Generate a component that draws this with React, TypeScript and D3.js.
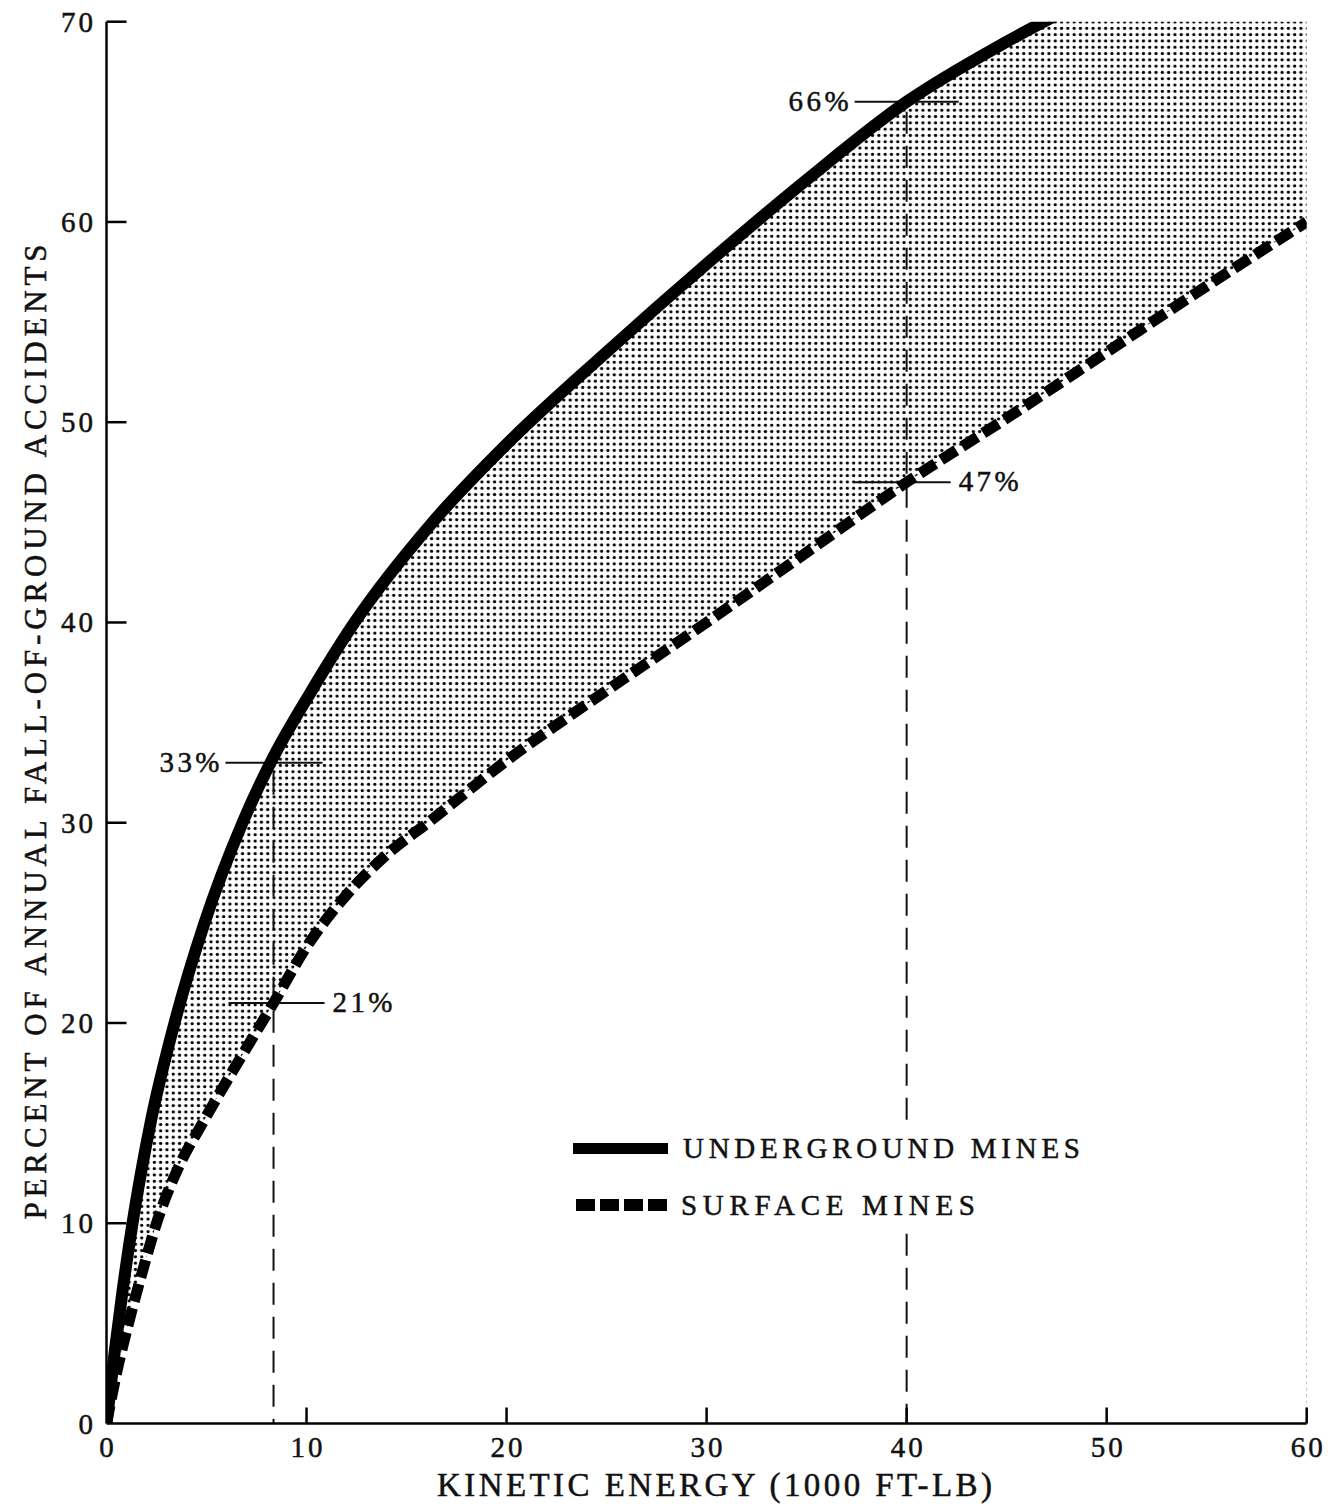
import React from "react";
import * as d3 from "d3";

// Cumulative share of fall-of-ground accidents vs. kinetic energy of the falling rock
const undergroundMines: [number, number][] = [
  [0, 0], [0.4, 3.5], [0.8, 6.6], [1.3, 10], [2.2, 15], [3.4, 20], [4.9, 25],
  [6.8, 30], [8.2, 33], [10.2, 36.5], [12.4, 40], [16.3, 45], [20, 48.9],
  [25, 53.5], [30, 57.9], [35, 62.1], [40, 66], [45, 69], [50, 71.6],
];
const surfaceMines: [number, number][] = [
  [0, 0], [0.5, 2.5], [1.1, 5], [1.8, 7.6], [2.5, 10], [3.6, 12.8], [4.8, 15],
  [7.75, 20], [8.35, 21], [10, 23.8], [12, 26.4], [14, 28.4], [16.2, 30.1],
  [20, 33.1], [25, 36.6], [30, 40], [35, 43.5], [40, 47], [45, 50.2],
  [50, 53.5], [55, 56.8], [60, 60],
];

// Marked readings: energy, percentage, label side and leader extent (in data units)
const readings = [
  { x: 8.35, y: 33, label: "33%", side: "left", from: 5.95, to: 10.8 },
  { x: 8.35, y: 21, label: "21%", side: "right", from: 6.1, to: 10.9 },
  { x: 40, y: 66, label: "66%", side: "left", from: 37.4, to: 42.6 },
  { x: 40, y: 47, label: "47%", side: "right", from: 37.4, to: 42.2 },
];
// Vertical guide lines: energy and the height they start from
const guides = [
  { x: 8.35, top: 33 },
  { x: 40, top: 66 },
];

const xTicks = [0, 10, 20, 30, 40, 50, 60];
const yTicks = [0, 10, 20, 30, 40, 50, 60, 70];

const legendItems = [
  { label: "UNDERGROUND MINES", dashed: false, textLength: 397 },
  { label: "SURFACE MINES", dashed: true, textLength: 294 },
];

const xTitle = "KINETIC ENERGY (1000 FT-LB)";
const yTitle = "PERCENT OF ANNUAL FALL-OF-GROUND ACCIDENTS";

const W = 1339;
const H = 1504;
const FONT = "'Liberation Serif', 'DejaVu Serif', serif";
const INK = "#111";

export default function App() {
  const x = d3.scaleLinear().domain([0, 60]).range([106.5, 1306.7]);
  const y = d3.scaleLinear().domain([0, 70]).range([1423.5, 21.7]);

  const line = d3
    .line<[number, number]>()
    .x((d) => x(d[0]))
    .y((d) => y(d[1]))
    .curve(d3.curveMonotoneX);

  const upperPath = line(undergroundMines) || "";
  const lowerPath = line(surfaceMines) || "";

  // region under the upper curve (stippled) and under the lower curve (blanked)
  const underUpper =
    upperPath + `L${x(60)},${y(72)}L${x(60)},${y(0)}L${x(0)},${y(0)}Z`;
  const underLower = lowerPath + `L${x(60)},${y(0)}L${x(0)},${y(0)}Z`;

  const plotTop = y(70);
  const plotBottom = y(0);
  const plotLeft = x(0);
  const plotRight = x(60);

  const textStyle = { fill: INK, stroke: INK, strokeWidth: 0.5 };

  return (
    <svg
      width={W}
      height={H}
      viewBox={`0 0 ${W} ${H}`}
      style={{ position: "absolute", left: 0, top: 0, background: "#fff" }}
      fontFamily={FONT}
    >
      <defs>
        <pattern id="stipple" width={6.3} height={6.3} patternUnits="userSpaceOnUse">
          <circle cx={3.15} cy={3.15} r={1.65} fill="#000" />
        </pattern>
        <clipPath id="plot">
          <rect x={plotLeft} y={plotTop} width={plotRight - plotLeft} height={plotBottom - plotTop} />
        </clipPath>
      </defs>

      {/* stippled band between the two curves */}
      <g clipPath="url(#plot)">
        <path d={underUpper} fill="url(#stipple)" />
        <path d={underLower} fill="#fff" />
      </g>

      {/* vertical guide lines */}
      {guides.map((g, i) => (
        <line
          key={`g${i}`}
          x1={x(g.x)}
          x2={x(g.x)}
          y1={y(g.top) + 10}
          y2={y(0)}
          stroke={INK}
          strokeWidth={2}
          strokeDasharray="22 12"
        />
      ))}

      {/* reading leaders and labels */}
      {readings.map((r, i) => (
        <g key={`r${i}`}>
          <line x1={x(r.from)} x2={x(r.to)} y1={y(r.y)} y2={y(r.y)} stroke={INK} strokeWidth={2} />
          <text
            x={r.side === "left" ? x(r.from) - 6 : x(r.to) + 8}
            y={y(r.y) + 9}
            textAnchor={r.side === "left" ? "end" : "start"}
            fontSize={29}
            {...textStyle}
            textLength={60}
            lengthAdjust="spacing"
          >
            {r.label}
          </text>
        </g>
      ))}

      {/* curves */}
      <g clipPath="url(#plot)">
        <path d={upperPath} fill="none" stroke="#000" strokeWidth={12} />
        <path d={lowerPath} fill="none" stroke="#000" strokeWidth={11} strokeDasharray="18 7" />
      </g>

      {/* axes */}
      <line x1={plotLeft} x2={plotLeft} y1={plotTop} y2={plotBottom} stroke="#000" strokeWidth={2.5} />
      <line x1={plotLeft} x2={plotRight} y1={plotBottom} y2={plotBottom} stroke="#000" strokeWidth={2.5} />
      {yTicks.map((t) => (
        <g key={`yt${t}`}>
          {t > 0 && (
            <line x1={plotLeft} x2={plotLeft + 20} y1={y(t)} y2={y(t)} stroke="#000" strokeWidth={2.5} />
          )}
          <text x={96} y={y(t) + 10} textAnchor="end" fontSize={29} {...textStyle} letterSpacing={3}>
            {t}
          </text>
        </g>
      ))}
      {xTicks.map((t) => (
        <g key={`xt${t}`}>
          {t > 0 && (
            <line x1={x(t)} x2={x(t)} y1={plotBottom} y2={plotBottom - 16} stroke="#000" strokeWidth={2.5} />
          )}
          <text x={x(t) + 1.5} y={1457} textAnchor="middle" fontSize={29} {...textStyle} letterSpacing={3}>
            {t}
          </text>
        </g>
      ))}

      {/* axis titles */}
      <text
        x={714.5}
        y={1496}
        textAnchor="middle"
        fontSize={33}
        {...textStyle}
        textLength={555}
        lengthAdjust="spacing"
      >
        {xTitle}
      </text>
      <text
        transform={`translate(46, 732) rotate(-90)`}
        textAnchor="middle"
        fontSize={31}
        {...textStyle}
        textLength={975}
        lengthAdjust="spacing"
      >
        {yTitle}
      </text>

      {/* legend, on a blank panel that interrupts the guide line */}
      <rect x={676} y={1124} width={412} height={104} fill="#fff" />
      {legendItems.map((item, i) => {
        const cy = i === 0 ? 1148.5 : 1205;
        const ty = i === 0 ? 1158 : 1215;
        return (
          <g key={`lg${i}`}>
            <line
              x1={item.dashed ? 576 : 573}
              x2={item.dashed ? 667 : 668}
              y1={cy}
              y2={cy}
              stroke="#000"
              strokeWidth={item.dashed ? 12 : 11}
              strokeDasharray={item.dashed ? "19 5" : undefined}
            />
            <text
              x={item.dashed ? 681 : 683}
              y={ty}
              fontSize={29}
              {...textStyle}
              textLength={item.textLength}
              lengthAdjust="spacing"
            >
              {item.label}
            </text>
          </g>
        );
      })}
    </svg>
  );
}
